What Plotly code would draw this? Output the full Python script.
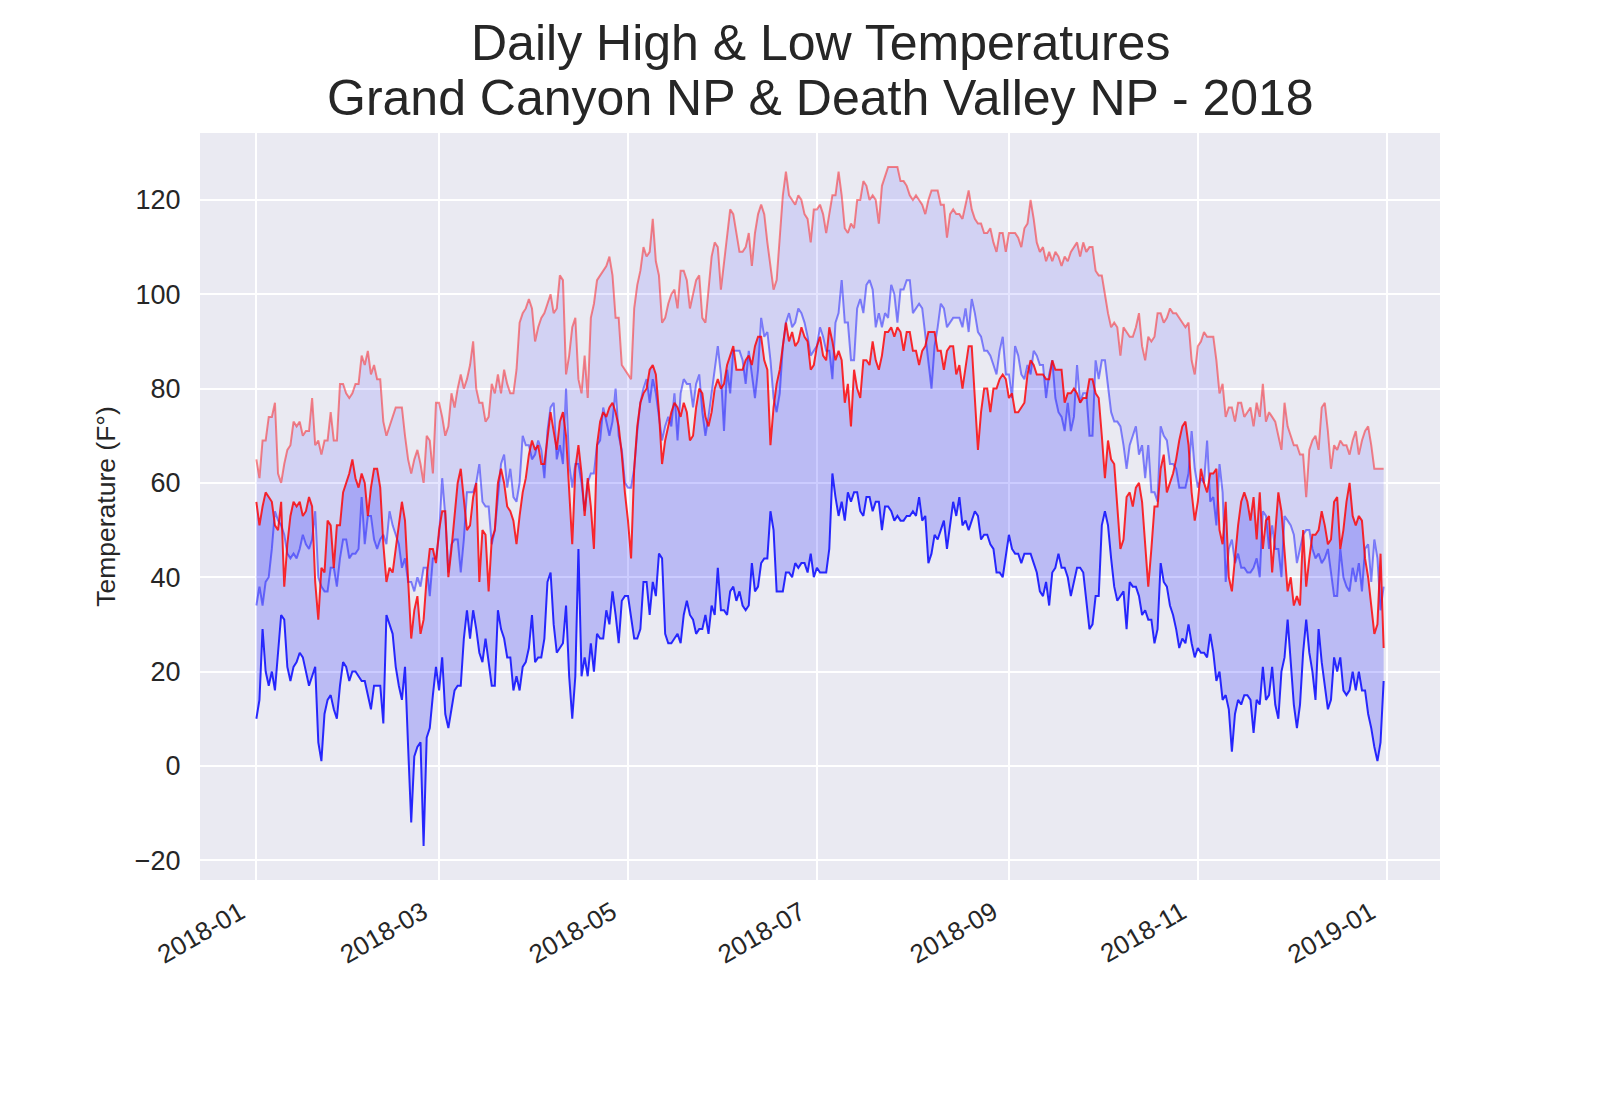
import pandas as pd
import plotly.graph_objects as go

dates = pd.date_range("2018-01-01", "2018-12-31", freq="D")

gc_high = [
    56,51,55,58,57,56,51,50,56,38, 47,53,56,55,56,53,54,57,55,39,
    31,42,41,52,51,42,51,51,58,60, 62,65,61,59,62,60,53,59,63,63,
    59,47,39,42,41,46,51,56,52,40, 27,33,36,28,31,40,46,46,43,
    50,54,54,40,46,53,60,63,57,50, 51,57,60,39,50,49,37,48,50,60,
    63,60,55,54,52,47,53,58,61,66, 69,67,68,64,64,70,75,71,67,73,
    75,70,58,47,63,68,62,53,61,55, 46,68,73,75,74,76,77,75,72,66,
    58,
    52,44,63,72,77,79,80,84,85,83, 75,64,69,72,75,77,76,74,77,75,
    69,70,76,80,79,74,72,75,80,82, 80,81,85,87,89,84,84,84,86,87,
    85,89,91,91,86,84,68,76,81,84, 89,94,90,92,89,90,93,91,90,84,
    85,
    89,91,87,86,93,90,86,88,86,77, 81,72,84,80,78,86,86,85,90,86,
    84,87,92,92,93,91,93,92,88,92, 92,88,88,85,88,89,92,92,92,88,
    88,84,88,89,89,83,85,80,85,89, 89,78,67,75,80,80,75,80,80,82,
    83,82,
    78,79,75,75,76,77,83,86,85,83, 83,83,82,82,86,84,84,84,77,79,
    79,80,79,77,78,78,82,82,79,78, 70,61,69,65,64,55,46,48,57,58,
    55,59,60,56,46,38,46,55,55,63, 66,58,60,62,65,69,72,73,68,58,
    52,
    56,63,60,58,62,62,63,50,47,56, 40,37,44,51,56,58,56,52,57,48,
    58,46,52,53,41,50,58,54,46,37, 40,34,36,34,50,38,44,49,49,50,
    54,51,47,48,56,57,46,50,56,60, 53,51,53,52,44,40,34,28,30,45,
    25,
]

gc_low = [
    10,14,29,20,17,20,16,24,32,31, 21,18,21,22,24,23,20,17,19,21,
    5,1,11,14,15,12,10,17,22,21, 18,20,20,19,18,18,15,12,17,17,
    17,9,32,30,28,21,17,14,21,4, -12,2,4,5,-17,6,8,15,21,
    16,23,11,8,12,16,17,17,27,33, 27,33,29,24,22,27,22,17,17,33,
    29,27,23,23,16,19,16,21,22,25, 32,22,23,23,27,39,41,30,24,25,
    26,34,19,10,19,46,19,23,19,26, 20,28,27,27,33,30,37,32,26,35,
    36,
    36,31,27,27,29,39,39,32,39,36, 45,44,28,26,26,27,28,26,32,35,
    32,31,28,29,29,32,28,34,32,42, 33,33,32,37,38,35,37,34,33,34,
    43,37,38,43,44,44,54,50,37,37, 37,41,41,40,43,42,43,43,41,45,
    40,
    42,41,41,41,46,62,57,53,56,52, 58,56,58,58,54,53,57,57,54,56,
    56,50,55,55,54,52,53,52,52,53, 53,54,53,57,52,53,43,45,49,48,
    50,52,46,51,56,53,57,51,52,50, 52,54,53,48,49,49,47,46,41,41,
    40,45,
    49,46,45,45,43,45,45,45,43,41, 37,36,39,34,41,42,45,42,42,40,
    36,39,42,42,41,35,29,30,36,36, 51,54,51,44,38,35,36,37,29,39,
    38,38,36,32,33,31,31,26,29,43, 39,38,34,32,29,25,27,26,30,26,
    23,
    25,24,24,23,28,24,18,20,14,15, 12,3,11,14,13,15,15,14,7,14,
    13,21,14,15,21,13,10,20,23,31, 22,13,8,13,24,31,24,20,14,29,
    22,17,12,14,23,20,23,16,15,16, 20,16,20,16,16,11,8,4,1,5,
    18,
]

dv_high = [
    65,61,69,69,74,74,77,62,60,64, 67,68,73,72,73,70,71,71,78,68,
    69,66,69,69,75,69,69,81,81,79, 78,79,81,81,87,85,88,83,85,82,
    82,73,70,72,74,76,76,76,70,65, 62,65,67,64,60,70,69,62,77,
    77,74,70,72,79,76,80,83,80,82, 85,90,80,77,77,73,74,81,79,83,
    79,84,81,79,79,84,94,96,97,99, 97,90,93,95,96,98,100,96,97,104,
    103,83,87,93,95,82,79,87,78,95, 98,103,104,105,106,108,104,95,95,85,
    84,
    83,82,97,102,105,110,108,109,116,107, 104,94,95,98,100,101,97,105,105,103,
    97,100,103,104,95,94,101,108,111,110, 101,107,113,118,117,113,109,109,110,113,
    106,113,117,119,117,111,106,101,103,112, 121,126,121,120,119,121,120,117,116,111,
    118,
    118,119,117,113,117,121,121,126,121,114, 113,115,114,120,120,124,123,120,121,120,
    115,123,125,127,127,127,127,124,124,123, 121,120,121,120,119,117,120,122,122,122,
    119,119,112,117,118,117,117,116,119,122, 118,116,115,115,113,113,114,111,109,113,
    113,109,
    113,113,113,112,110,114,115,120,116,111, 109,110,107,109,107,109,108,106,108,107,
    109,110,111,108,111,109,110,110,105,104, 104,100,96,93,94,93,87,93,92,91,
    91,93,96,89,86,91,90,91,96,96, 94,95,97,96,96,95,94,93,94,86,
    83,
    89,90,92,91,91,91,86,79,81,74, 76,76,73,77,77,74,75,76,72,77,
    74,81,73,75,74,73,70,67,77,72, 70,68,68,66,66,57,67,69,70,67,
    76,77,71,63,68,67,69,68,68,66, 69,71,66,69,71,72,68,63,63,63,
    63,
]

dv_low = [
    34,38,34,39,40,46,54,52,51,49, 45,44,45,44,46,49,47,46,48,54,
    40,38,37,37,42,42,38,44,48,48, 44,45,45,46,57,47,53,53,48,46,
    48,49,47,54,51,49,47,42,44,39, 39,37,40,38,42,42,36,44,44,
    49,61,53,41,47,48,48,41,48,58, 58,58,60,64,56,55,55,47,50,57,
    64,66,59,63,57,56,60,70,68,68, 65,66,69,67,61,71,76,77,65,68,
    64,80,64,59,64,64,60,54,60,62, 62,68,69,76,73,70,73,80,70,67,
    60,
    59,59,63,71,77,80,82,77,82,79, 74,69,72,74,72,79,69,79,82,81,
    81,76,81,83,75,70,74,79,84,89, 83,71,84,79,88,88,88,86,81,88,
    83,78,84,95,91,92,86,78,75,79, 89,94,96,93,94,97,96,94,91,87,
    88,
    89,93,91,88,88,82,94,96,103,94, 94,86,86,97,99,96,102,103,101,93,
    96,93,96,95,102,100,94,101,101,103, 103,96,97,98,97,91,85,80,89,93,
    98,97,93,94,95,95,95,93,97,92, 99,96,92,91,88,88,87,85,83,88,
    91,83,
    83,78,89,87,83,82,85,83,88,87, 85,85,78,83,86,78,75,74,71,77,
    71,74,85,77,79,79,70,70,86,82, 86,86,81,75,73,73,72,68,63,68,
    70,72,66,68,61,68,58,58,56,72, 70,69,64,64,63,59,59,59,62,71,
    63,
    59,61,60,69,56,57,51,64,58,39, 46,48,43,45,42,42,41,41,42,44,
    40,54,53,46,51,46,46,40,53,52, 51,49,43,46,49,50,50,46,44,45,
    43,44,46,41,36,36,46,40,38,37, 42,39,43,37,46,47,39,48,44,33,
    38,
]

x_tick_vals = ["2018-01-01", "2018-03-01", "2018-05-01", "2018-07-01",
               "2018-09-01", "2018-11-01", "2019-01-01"]
x_tick_text = ["2018-01", "2018-03", "2018-05", "2018-07",
               "2018-09", "2018-11", "2019-01"]
y_tick_vals = [-20, 0, 20, 40, 60, 80, 100, 120]
y_tick_text = ["\u221220", "0", "20", "40", "60", "80", "100", "120"]

title_lines = ["Daily High & Low Temperatures",
               "Grand Canyon NP & Death Valley NP - 2018"]
y_label = "Temperature (F\u00b0)"

FONT = "Liberation Sans, Arial, DejaVu Sans, sans-serif"
TXT = "#262626"

fig = go.Figure()
# Death Valley band
fig.add_trace(go.Scatter(x=dates, y=dv_low, mode="lines",
                         line=dict(color="rgba(0,0,255,0.45)", width=2),
                         showlegend=False, hoverinfo="skip"))
fig.add_trace(go.Scatter(x=dates, y=dv_high, mode="lines",
                         line=dict(color="rgba(255,0,0,0.45)", width=2),
                         fill="tonexty", fillcolor="rgba(0,0,255,0.10)",
                         showlegend=False, hoverinfo="skip"))
# Grand Canyon band
fig.add_trace(go.Scatter(x=dates, y=gc_low, mode="lines",
                         line=dict(color="rgba(0,0,255,0.82)", width=2),
                         showlegend=False, hoverinfo="skip"))
fig.add_trace(go.Scatter(x=dates, y=gc_high, mode="lines",
                         line=dict(color="rgba(255,0,0,0.82)", width=2),
                         fill="tonexty", fillcolor="rgba(0,0,255,0.20)",
                         showlegend=False, hoverinfo="skip"))

# title as two centred lines above the plot area
for txt, ypos in zip(title_lines, [1.1205, 1.0469]):
    fig.add_annotation(text=txt, x=0.5, y=ypos, xref="paper", yref="paper",
                       xanchor="center", yanchor="middle", showarrow=False,
                       font=dict(family=FONT, size=50, color=TXT))

fig.update_layout(
    width=1584, height=1084,
    autosize=False,
    paper_bgcolor="white",
    plot_bgcolor="#EAEAF2",
    margin=dict(l=192, r=152, t=125, b=212, pad=0),
    font=dict(family=FONT, color=TXT, size=27),
    xaxis=dict(
        type="date",
        range=["2017-12-13 19:12", "2019-01-18 04:48"],
        tickmode="array", tickvals=x_tick_vals, ticktext=x_tick_text,
        tickangle=-30,
        ticklabelshift=-16,
        showgrid=True, gridcolor="white", gridwidth=2,
        zeroline=False, showline=False,
        ticks="outside", ticklen=6, tickcolor="rgba(0,0,0,0)",
        tickfont=dict(size=26, color=TXT, family=FONT),
    ),
    yaxis=dict(
        range=[-24.2, 134.2],
        tickmode="array", tickvals=y_tick_vals, ticktext=y_tick_text,
        showgrid=True, gridcolor="white", gridwidth=2,
        zeroline=False, showline=False,
        ticks="outside", ticklen=13, tickcolor="rgba(0,0,0,0)",
        tickfont=dict(size=27, color=TXT, family=FONT),
        title=dict(text=y_label, font=dict(size=26.5, color=TXT, family=FONT),
                   standoff=11),
    ),
)

fig.write_html("out.html")
